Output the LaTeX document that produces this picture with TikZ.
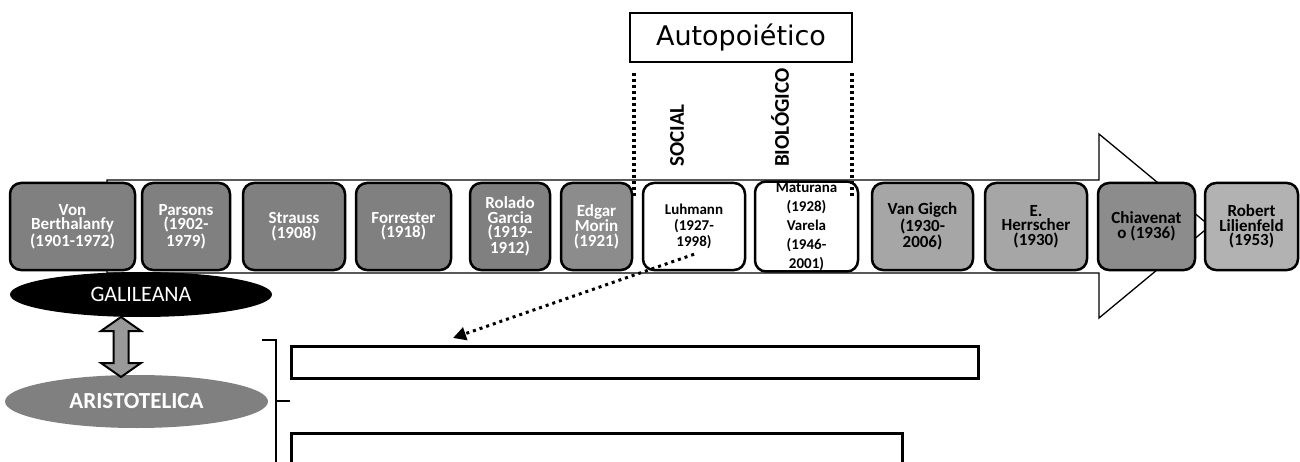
\documentclass[tikz,border=0pt]{standalone}
\usepackage{fontspec}
\setmainfont{Carlito}
\newfontfamily\verdana{DejaVu Sans}
\usetikzlibrary{arrows.meta}
\usetikzlibrary{shapes.geometric}

\tikzset{
  author/.style={draw, line width=2.5pt, rounded corners=11pt, minimum height=87pt,
    inner sep=1pt, align=center, font=\bfseries\fontsize{17}{14.5}\selectfont},
  dotline/.style={line width=3.5pt, dash pattern=on 3pt off 3pt},
  textbar/.style={draw, line width=3pt, fill=white, inner sep=0pt},
}

\begin{document}
\begin{tikzpicture}[x=1pt,y=-1pt]
  \useasboundingbox (0,0) rectangle (1300,462);

  % Draw the big timeline arrow
  \draw[line width=1.3pt, fill=white] (107,180) -- (1099,180) -- (1099,134) -- (1210,226)
    -- (1099,318) -- (1099,273) -- (107,273) -- cycle;

  % Draw the authors on the timeline
  \foreach \name/\xa/\xb/\tone/\ink/\who in {
    vb/10/135/black!50/white/Von\\Berthalanfy\\(1901-1972),
    par/142/230/black!50/white/Parsons\\(1902-\\1979),
    str/243/345/black!50/white/Strauss\\(1908),
    forr/356/451/black!50/white/Forrester\\(1918),
    gar/470/550/black!50/white/Rolado\\Garcia\\(1919-\\1912),
    mor/561/632/black!45/white/Edgar\\Morin\\(1921),
    vg/872/973/black!35/black/Van Gigch\\(1930-\\2006),
    her/985/1087/black!35/black/E.\\Herrscher\\(1930),
    chi/1098/1195/black!45/black/Chiavenat\\o (1936),
    lil/1205/1298/black!30/black/Robert\\Lilienfeld\\(1953)} {
    \node[author, fill=\tone, text=\ink, minimum width=\xb-\xa] (\name) at ({(\xa+\xb)/2},226.5) {\who};
  }

  % the two autopoietic authors
  \node[author, fill=white, minimum width=102, font=\bfseries\fontsize{15}{16}\selectfont]
    (luh) at (694,226.5) {Luhmann\\(1927-\\1998)};
  \node[author, fill=white, minimum width=103, font=\bfseries\fontsize{15}{19}\selectfont]
    (mat) at (806.5,226.5) {Maturana\\(1928)\\Varela\\(1946-\\2001)};

  % Autopoietico header and its dotted frame
  \node[draw, line width=2pt, minimum width=222, minimum height=49,
    font=\verdana\fontsize{27}{27}\selectfont] (auto) at (741,37.5) {Autopoiético};
  \draw[dotline] ([xshift=5pt,yshift=-10pt]auto.south west) -- ++(0,125);
  \draw[dotline] ([xshift=-1pt,yshift=-10pt]auto.south east) -- ++(0,125);
  \node[rotate=90, anchor=west, inner sep=0, font=\bfseries\fontsize{21}{21}\selectfont]
    (soc) at (677,167) {SOCIAL};
  \node[rotate=90, anchor=west, inner sep=0, font=\bfseries\fontsize{21}{21}\selectfont]
    (bio) at (780,167) {BIOLÓGICO};

  % Galileana / Aristotelica
  \node[ellipse, fill=black, minimum width=262, minimum height=45, inner sep=0, text=white,
    font=\fontsize{22}{22}\selectfont] (gal) at (141,294.5) {GALILEANA};
  \node[ellipse, fill=black!50, minimum width=263, minimum height=53, inner sep=0, text=white,
    font=\bfseries\fontsize{23}{23}\selectfont] (ari) at (136.5,401.5) {ARISTOTELICA};
  % double block arrow between them
  \begin{scope}[shift={(121,317)}]
    \draw[line width=2pt, fill=black!40, line join=miter] (0,0) -- (20,14) -- (7.5,14) -- (7.5,46)
      -- (20,46) -- (0,60) -- (-20,46) -- (-7.5,46) -- (-7.5,14) -- (-20,14) -- cycle;
  \end{scope}

  % brace and the two text bars
  \draw[line width=1.2pt] (262,340) -- (276,340) -- (276,470);
  \draw[line width=1.2pt] (276,401) -- (290,401);
  \node[textbar, minimum width=687, minimum height=32] (txta) at (634.5,362) {};
  \node[textbar, minimum width=611, minimum height=50] (txtb) at (596.5,458) {};

  % dotted pointer from Luhmann
  \coordinate (tipa) at (453,338);
  \draw[line width=3pt, dash pattern=on 3pt off 4pt, -{Triangle[length=13pt,width=13pt]}]
    ([yshift=17pt]luh.south) -- (tipa);

\end{tikzpicture}
\end{document}
